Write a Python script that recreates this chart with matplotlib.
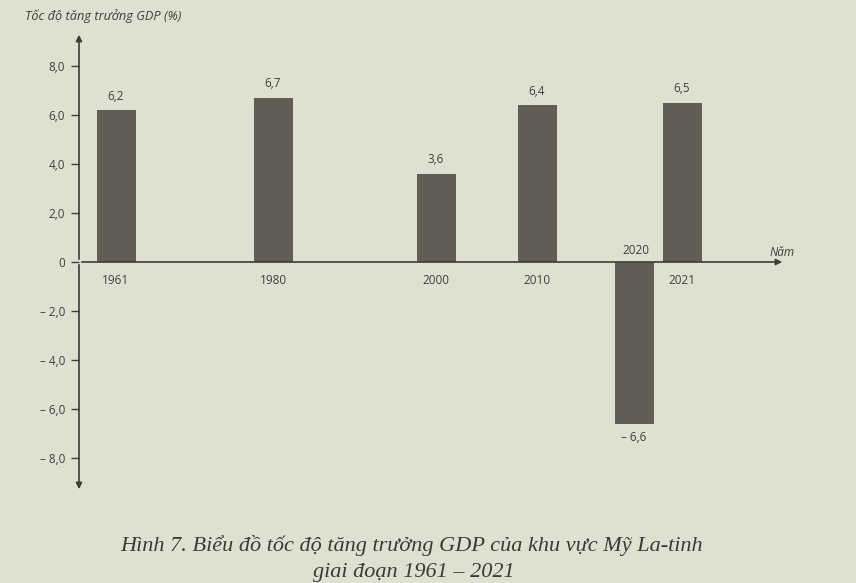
import matplotlib
matplotlib.use("Agg")
import matplotlib.pyplot as plt

# ---- data ----
years = ["1961", "1980", "2000", "2010", "2020", "2021"]
growth = [6.2, 6.7, 3.6, 6.4, -6.6, 6.5]
value_labels = ["6,2", "6,7", "3,6", "6,4", "– 6,6", "6,5"]
yticks = [8, 6, 4, 2, 0, -2, -4, -6, -8]
ytick_labels = ["8,0", "6,0", "4,0", "2,0", "0", "– 2,0", "– 4,0", "– 6,0", "– 8,0"]

# ---- layout (horizontal positions of the categories, pixel-like units) ----
x_pos = [116, 273, 436, 537, 634, 682]

BG = "#dfe1d0"
BAR = "#615d55"
TXT = "#3f3f3a"
AXC = "#3c3c38"
FONT = "Open Sans"
FS = 8.5

W, H = 856, 583
fig = plt.figure(figsize=(W / 100, H / 100), dpi=100, facecolor=BG)

ax_left, ax_right = 79, 800
ax_top, ax_bot = 32, 492
ax = fig.add_axes([ax_left / W, 1 - ax_bot / H, (ax_right - ax_left) / W, (ax_bot - ax_top) / H])
ax.set_facecolor(BG)
ppu = 24.5  # pixels per unit
zero_y = 262
ax.set_ylim((zero_y - ax_bot) / ppu, (zero_y - ax_top) / ppu)
ax.set_xlim(ax_left, ax_right)
for s in ax.spines.values():
    s.set_visible(False)

ax.bar(x_pos, growth, width=39, color=BAR, zorder=2)

# axes with arrows
ymin, ymax = ax.get_ylim()
arrow = dict(arrowstyle="-|>", color=AXC, lw=1.2, mutation_scale=9)
ax.annotate("", xy=(ax_left, ymax), xytext=(ax_left, 0), arrowprops=arrow, zorder=3)
ax.annotate("", xy=(ax_left, ymin), xytext=(ax_left, 0), arrowprops=arrow, zorder=3)
ax.annotate("", xy=(785, 0), xytext=(ax_left, 0), arrowprops=arrow, zorder=3)

ax.set_xticks([])
ax.set_yticks(yticks)
ax.set_yticklabels(ytick_labels, fontfamily=FONT, fontsize=FS, color=TXT)
ax.tick_params(axis="y", direction="out", length=6, width=1, color=AXC, pad=4)

off = 14 / ppu
yr_off = 18 / ppu
# value labels and year labels
for x, v, vl, yr in zip(x_pos, growth, value_labels, years):
    if v >= 0:
        ax.text(x, v + off, vl, ha="center", va="center", fontsize=FS, fontfamily=FONT, color=TXT)
        ax.text(x, -yr_off, yr, ha="center", va="center", fontsize=FS, fontfamily=FONT, color=TXT)
    else:
        ax.text(x, v - off, vl, ha="center", va="center", fontsize=FS, fontfamily=FONT, color=TXT)
        ax.text(x + 2, 11 / ppu, yr, ha="center", va="center", fontsize=FS, fontfamily=FONT, color=TXT)

ax.text(782, 10 / ppu, "Năm", ha="center", va="center", fontsize=FS, fontfamily=FONT,
        style="italic", color=TXT)

fig.text(25 / W, 1 - 16 / H, "Tốc độ tăng trưởng GDP (%)", ha="left", va="center",
         fontsize=9.2, fontfamily=FONT, style="italic", color=TXT)

fig.text(412 / W, 1 - 546 / H, "Hình 7. Biểu đồ tốc độ tăng trưởng GDP của khu vực Mỹ La-tinh",
         ha="center", va="center", fontsize=16, fontfamily="Liberation Serif", style="italic",
         color="#3a3a36")
fig.text(414 / W, 1 - 572 / H, "giai đoạn 1961 – 2021",
         ha="center", va="center", fontsize=16, fontfamily="Liberation Serif", style="italic",
         color="#3a3a36")

fig.savefig("out.png", dpi=100, facecolor=BG)
